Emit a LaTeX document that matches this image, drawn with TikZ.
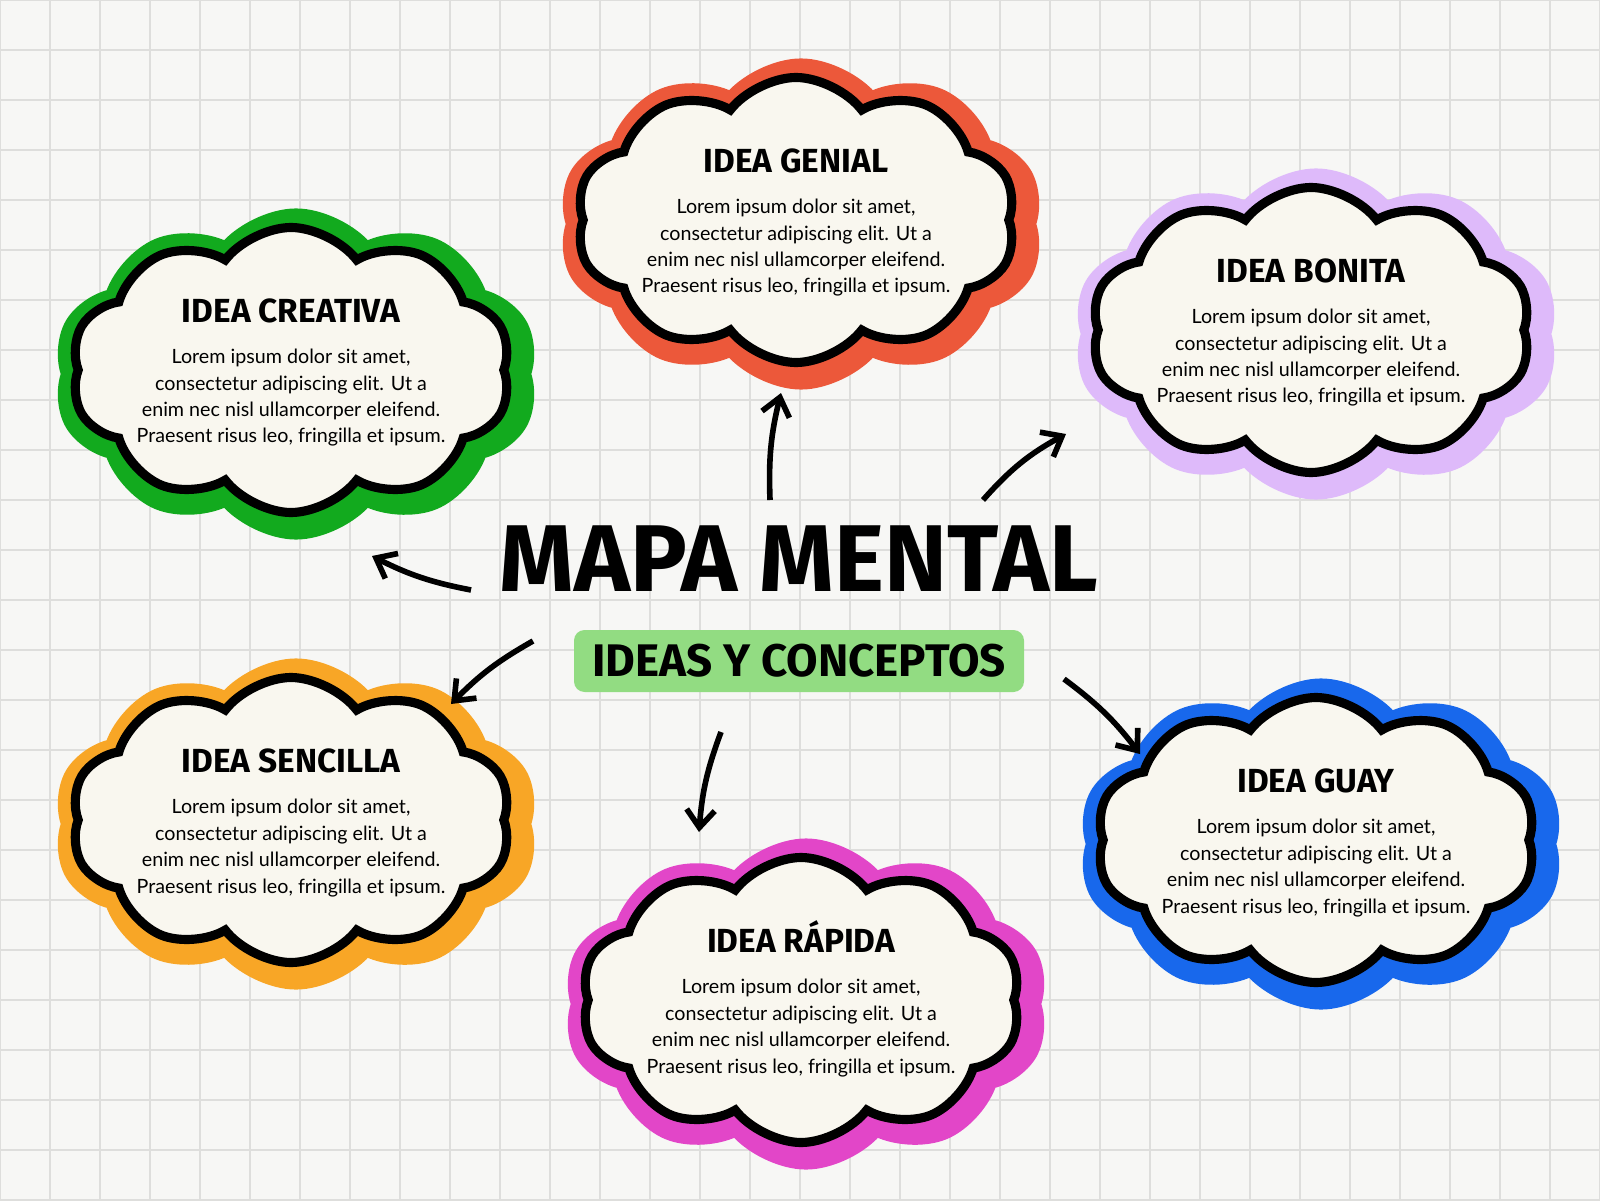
\documentclass[tikz,border=0pt]{standalone}
\usepackage{fontspec}
\setmainfont{Lato}
\newfontfamily\headfont{Fira Sans}
\usetikzlibrary{shapes.symbols, arrows.meta, positioning, calc}
\definecolor{papercolor}{RGB}{247, 247, 245}
\definecolor{gridcolor}{RGB}{222, 222, 220}
\definecolor{creamcolor}{RGB}{249, 247, 239}
\definecolor{geniacolor}{RGB}{236, 88, 58}
\definecolor{creativacolor}{RGB}{18, 170, 30}
\definecolor{bonitacolor}{RGB}{222, 186, 250}
\definecolor{sencillacolor}{RGB}{248, 166, 38}
\definecolor{rapidacolor}{RGB}{226, 70, 200}
\definecolor{guaycolor}{RGB}{24, 104, 236}
\definecolor{tagcolor}{RGB}{146, 220, 130}
\tikzset{
  puff/.style={cloud, cloud puffs=10, cloud puff arc=105, aspect=1.6, minimum width=4.4cm, minimum height=2.85cm},
  halo/.style={puff, draw=#1, fill=#1, line width=6pt, minimum width=4.65cm, minimum height=3.1cm},
  cloudbox/.style={puff, draw=black, line width=2.6pt, fill=creamcolor},
  cloudtitle/.style={font=\headfont\bfseries\fontsize{9.5}{11}\selectfont},
  cloudtext/.style={align=center, font=\fontsize{5.6}{7.5}\selectfont},
  link/.style={-{Straight Barb[length=5pt, width=8pt]}, line width=1.6pt, black}
}
\newcommand{\lorem}{Lorem ipsum dolor sit amet,\\consectetur adipiscing elit. Ut a\\enim nec nisl ullamcorper eleifend.\\Praesent risus leo, fringilla et ipsum.}
\newcommand{\idea}[4]{%
  \node[halo=#3] at ($(#2)+(0.05,-0.04)$) {};
  \node[cloudbox] (#1) at (#2) {};
  \node[cloudtitle, above=0.05cm of #1.center, yshift=0.3cm] (#1-t) {#4};
  \node[cloudtext, below=0.02cm of #1-t] (#1-b) {\lorem};
}
\begin{document}
\begin{tikzpicture}
  % paper and grid
  \fill[papercolor] (0,0) rectangle (16,12);
  \useasboundingbox (0,0) rectangle (16,12);
  \draw[gridcolor, line width=0.5pt, step=0.5] (0,0) grid (16,12);

  % clouds
  \idea{genial}{7.96,9.8}{geniacolor}{IDEA GENIAL}
  \idea{creativa}{2.91,8.3}{creativacolor}{IDEA CREATIVA}
  \idea{bonita}{13.11,8.7}{bonitacolor}{IDEA BONITA}
  \idea{sencilla}{2.91,3.8}{sencillacolor}{IDEA SENCILLA}
  \idea{rapida}{8.01,2.0}{rapidacolor}{IDEA RÁPIDA}
  \idea{guay}{13.16,3.6}{guaycolor}{IDEA GUAY}

  % centre
  \node[font=\headfont\bfseries\fontsize{27}{30}\selectfont] (title) at (7.99,6.41) {MAPA MENTAL};
  \node[fill=tagcolor, rounded corners=3pt, minimum width=4.5cm, minimum height=0.62cm,
        font=\headfont\bfseries\fontsize{13}{15}\selectfont] (tag) at (7.99,5.39) {IDEAS Y CONCEPTOS};

  % connectors
  \coordinate (a1) at (7.70,7.00); \coordinate (b1) at (7.81,8.07);
  \coordinate (a2) at (9.83,7.00); \coordinate (b2) at (10.66,7.66);
  \coordinate (a3) at (4.71,6.10); \coordinate (b3) at (3.72,6.44);
  \coordinate (a4) at (5.33,5.59); \coordinate (b4) at (4.51,4.96);
  \coordinate (a5) at (7.21,4.68); \coordinate (b5) at (6.99,3.68);
  \coordinate (a6) at (10.64,5.21); \coordinate (b6) at (11.40,4.46);
  \draw[link] (a1) to[bend left=8] (b1);
  \draw[link] (a2) to[bend left=10] (b2);
  \draw[link] (a3) to[bend left=8] (b3);
  \draw[link] (a4) to[bend right=8] (b4);
  \draw[link] (a5) to[bend right=8] (b5);
  \draw[link] (a6) to[bend left=8] (b6);
\end{tikzpicture}
\end{document}
